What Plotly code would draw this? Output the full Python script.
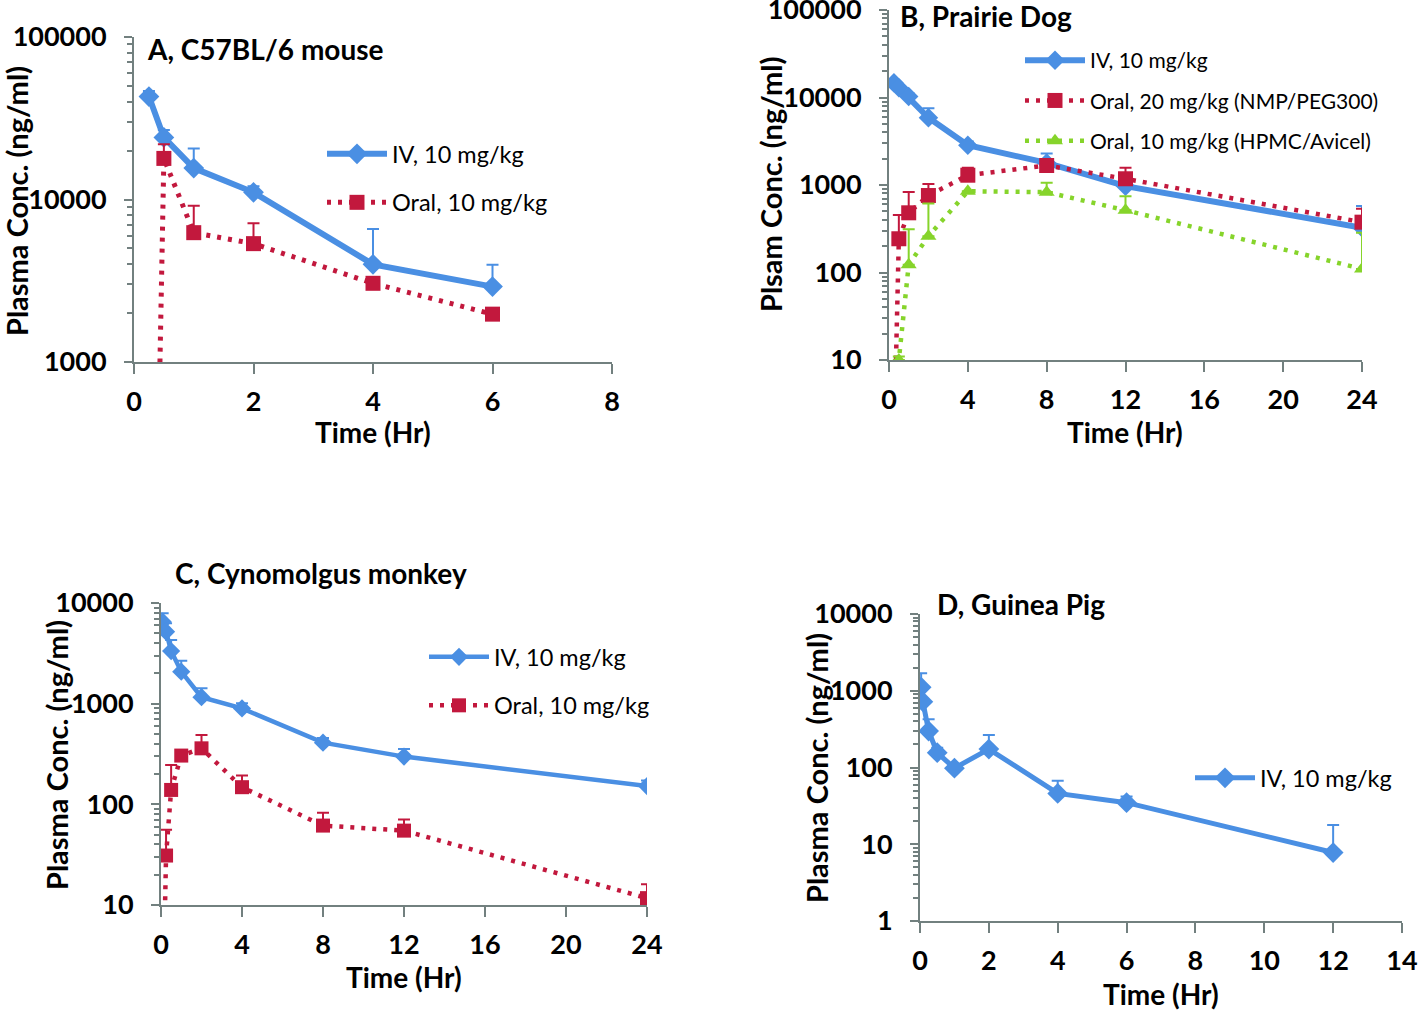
import plotly.graph_objects as go

W, H = 1418, 1010

# ---------------- DATA ----------------
# Panel A, C57BL/6 mouse
a_iv_t = [0.25, 0.5, 1, 2, 4, 6]
a_iv_c = [43000, 24100, 15600, 11070, 3990, 2910]
a_iv_e = [3500, 2700, 5000, 1000, 2600, 1050]
a_or_t = [0.25, 0.5, 1, 2, 4, 6]
a_or_c = [0.3, 17900, 6250, 5350, 3050, 1970]
a_or_e = [0, 4000, 2900, 1800, 150, 0]

# Panel B, Prairie Dog
b_t = [0.25, 0.5, 1, 2, 4, 8, 12, 24]
b_iv_c = [14700, 12900, 10300, 5860, 2850, 1790, 970, 325]
b_iv_e = [800, 500, 800, 1700, 300, 500, 150, 250]
b_or20_c = [1, 243, 481, 758, 1294, 1670, 1178, 376]
b_or20_e = [0, 210, 350, 270, 280, 300, 400, 160]
b_or10_c = [0.5, 10, 123, 260, 849, 828, 515, 110]
b_or10_e = [0, 1, 190, 355, 0, 230, 230, 175]

# Panel C, Cynomolgus monkey
c_t = [0.083, 0.25, 0.5, 1, 2, 4, 8, 12, 24]
c_iv_c = [6520, 5190, 3330, 2080, 1160, 897, 410, 298, 152]
c_iv_e = [1400, 1100, 970, 590, 260, 110, 45, 57, 20]
c_or_c = [0.7, 31, 139, 305, 360, 148, 61.5, 54.8, 11.7]
c_or_e = [0, 25, 107, 0, 129, 45, 21, 16, 4.4]

# Panel D, Guinea Pig
d_t = [0.033, 0.083, 0.25, 0.5, 1, 2, 4, 6, 12]
d_iv_c = [1110, 720, 299, 156, 98, 174, 46, 34.8, 7.8]
d_iv_e = [580, 0, 126, 25, 0, 91, 21, 7, 10]

# y tick labels
y_ticks_vals = [1, 10, 100, 1000, 10000, 100000]
y_ticks_text = ["1", "10", "100", "1000", "10000", "100000"]

# ---------------- STYLE ----------------
FONT = "Lato"
BLUE = "#4A8FE3"
RED = "#C2183D"
GREEN = "#86D42B"
AXC = "#72807F"
DOT = "4px,7px"


def px_x(p):
    return p / W


def px_y(p):
    return 1 - p / H


fig = go.Figure()


def add(xs, ys, es, name, color, xa, ya, leg, width, dash, symbol, msize, group):
    fig.add_trace(go.Scatter(
        x=xs, y=ys, name=name, mode="lines+markers",
        xaxis=xa, yaxis=ya, legend=leg, legendgroup=group,
        line=dict(color=color, width=width, dash=dash),
        marker=dict(symbol=symbol, size=msize, color=color),
        error_y=dict(type="data", symmetric=False, array=es,
                     arrayminus=[0] * len(es), color=color,
                     thickness=2, width=6),
    ))


add(a_iv_t, a_iv_c, a_iv_e, "IV, 10 mg/kg", BLUE, "x", "y", "legend", 6, "solid", "diamond", 16, "a1")
add(a_or_t, a_or_c, a_or_e, "Oral, 10 mg/kg", RED, "x", "y", "legend", 5, DOT, "square", 15, "a2")

add(b_t, b_iv_c, b_iv_e, "IV, 10 mg/kg", BLUE, "x2", "y2", "legend2", 6, "solid", "diamond", 15, "b1")
add(b_t, b_or20_c, b_or20_e, "Oral, 20 mg/kg (NMP/PEG300)", RED, "x2", "y2", "legend2", 4.5, DOT, "square", 15, "b2")
add(b_t, b_or10_c, b_or10_e, "Oral, 10 mg/kg (HPMC/Avicel)", GREEN, "x2", "y2", "legend2", 4.5, DOT, "triangle-up", 14, "b3")

add(c_t, c_iv_c, c_iv_e, "IV, 10 mg/kg", BLUE, "x3", "y3", "legend3", 4.5, "solid", "diamond", 14, "c1")
add(c_t, c_or_c, c_or_e, "Oral, 10 mg/kg", RED, "x3", "y3", "legend3", 4.5, DOT, "square", 14, "c2")

add(d_t, d_iv_c, d_iv_e, "IV, 10 mg/kg", BLUE, "x4", "y4", "legend4", 5, "solid", "diamond", 16, "d1")

tickfont = dict(family=FONT, size=27, color="black", weight="bold")


def xaxis(dom, rng, dt, anchor):
    return dict(domain=[px_x(dom[0]), px_x(dom[1])], range=rng, dtick=dt, tick0=0,
                anchor=anchor, showgrid=False, zeroline=False, showline=True,
                automargin=False, ticklabeloverflow="allow",
                linecolor=AXC, linewidth=2, ticks="outside", ticklen=10,
                tickwidth=2, tickcolor=AXC, tickfont=tickfont,
                ticklabelstandoff=5)


def yaxis(dom, rng, anchor):
    return dict(domain=[px_y(dom[1]), px_y(dom[0])], type="log", range=rng,
                tickmode="array", tickvals=y_ticks_vals, ticktext=y_ticks_text,
                anchor=anchor, showgrid=False, zeroline=False, showline=True,
                automargin=False, ticklabeloverflow="allow",
                linecolor=AXC, linewidth=2, ticks="outside", ticklen=8,
                tickwidth=2, tickcolor=AXC, tickfont=tickfont,
                ticklabelstandoff=12,
                minor=dict(ticks="outside", ticklen=5, tickwidth=1.5,
                           tickcolor=AXC, dtick="D1", showgrid=False))


def legend(xp, yp, gap, size):
    return dict(x=px_x(xp), y=px_y(yp), xanchor="left", yanchor="top",
                font=dict(family=FONT, size=size, color="black"),
                bgcolor="rgba(0,0,0,0)", traceorder="grouped",
                tracegroupgap=gap, itemwidth=60)


fig.update_layout(
    width=W, height=H, margin=dict(l=0, r=0, t=0, b=0, autoexpand=False),
    paper_bgcolor="white", plot_bgcolor="white",
    font=dict(family=FONT, color="black"),
    showlegend=True,
    xaxis=xaxis((134, 612), [0, 8], 2, "y"),
    yaxis=yaxis((37, 362), [3, 5], "x"),
    xaxis2=xaxis((889, 1362), [0, 24], 4, "y2"),
    yaxis2=yaxis((10, 360), [1, 5], "x2"),
    xaxis3=xaxis((161, 647), [0, 24], 4, "y3"),
    yaxis3=yaxis((603, 905), [1, 4], "x3"),
    xaxis4=xaxis((920, 1402), [0, 14], 2, "y4"),
    yaxis4=yaxis((614, 921), [0, 4], "x4"),
    legend=legend(322, 132, 15, 23.5),
    legend2=legend(1020, 40, 10, 21),
    legend3=legend(424, 635, 15, 23.5),
    legend4=legend(1190, 756, 10, 23.5),
)

annos = [
    # panel titles (left x, centre y, angle, anchor, size)
    ("A, C57BL/6 mouse", 145, 49, 0, "left", 28),
    ("B, Prairie Dog", 898, 16, 0, "left", 28),
    ("C, Cynomolgus monkey", 173, 573, 0, "left", 28),
    ("D, Guinea Pig", 935, 604, 0, "left", 28),
    # x axis titles
    ("Time (Hr)", 373, 432, 0, "center", 28),
    ("Time (Hr)", 1125, 432, 0, "center", 28),
    ("Time (Hr)", 404, 977, 0, "center", 28),
    ("Time (Hr)", 1161, 994, 0, "center", 28),
    # y axis titles
    ("Plasma Conc. (ng/ml)", 17, 201, -90, "center", 29),
    ("Plsam Conc. (ng/ml)", 771, 185, -90, "center", 29),
    ("Plasma Conc. (ng/ml)", 56, 755, -90, "center", 29),
    ("Plasma Conc. (ng/ml)", 816, 768, -90, "center", 29),
]
for text, xp, yp, ang, xanc, fs in annos:
    fig.add_annotation(text=text, x=px_x(xp), y=px_y(yp), xref="paper", yref="paper",
                       showarrow=False, textangle=ang, xanchor=xanc, yanchor="middle",
                       font=dict(family=FONT, size=fs, color="black", weight="bold"))

fig.write_html(
    "out.html",
    config={"displayModeBar": False},
    post_script="document.body.style.margin='0';document.body.style.overflow='hidden';",
)
